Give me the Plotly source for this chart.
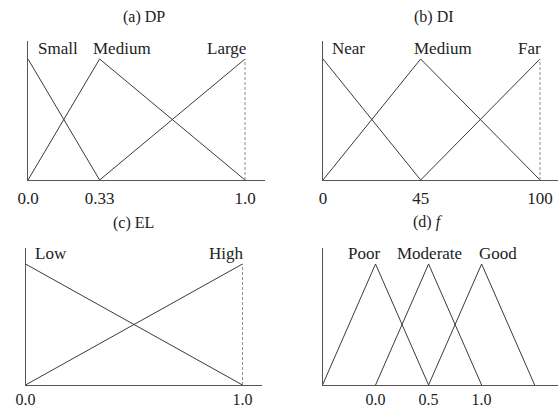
import plotly.graph_objects as go

W, H = 559, 410

# ---- data ----
dp_small_x = [0.0, 0.33]
dp_small_y = [1.0, 0.0]
dp_medium_x = [0.0, 0.33, 1.0]
dp_medium_y = [0.0, 1.0, 0.0]
dp_large_x = [0.33, 1.0]
dp_large_y = [0.0, 1.0]
dp_ticks = [0.0, 0.33, 1.0]
dp_ticktext = ["0.0", "0.33", "1.0"]

di_near_x = [0, 45]
di_near_y = [1.0, 0.0]
di_medium_x = [0, 45, 100]
di_medium_y = [0.0, 1.0, 0.0]
di_far_x = [45, 100]
di_far_y = [0.0, 1.0]
di_ticks = [0, 45, 100]
di_ticktext = ["0", "45", "100"]

el_low_x = [0.0, 1.0]
el_low_y = [1.0, 0.0]
el_high_x = [0.0, 1.0]
el_high_y = [0.0, 1.0]
el_ticks = [0.0, 1.0]
el_ticktext = ["0.0", "1.0"]

f_poor_x = [-0.5, 0.0, 0.5]
f_poor_y = [0.0, 1.0, 0.0]
f_mod_x = [0.0, 0.5, 1.0]
f_mod_y = [0.0, 1.0, 0.0]
f_good_x = [0.5, 1.0, 1.5]
f_good_y = [0.0, 1.0, 0.0]
f_ticks = [0.0, 0.5, 1.0]
f_ticktext = ["0.0", "0.5", "1.0"]

FONT = "Liberation Serif, Times New Roman, serif"
LINE = dict(color="#3a3a3a", width=1)
DASH = dict(color="#8a8a8a", width=1, dash="3px,2px")

fig = go.Figure()

def add(x, y, ax, line=LINE):
    fig.add_trace(go.Scatter(x=x, y=y, mode="lines", line=line,
                             xaxis="x" + ax, yaxis="y" + ax,
                             showlegend=False, hoverinfo="skip"))

# panel a
add(dp_small_x, dp_small_y, "")
add(dp_medium_x, dp_medium_y, "")
add(dp_large_x, dp_large_y, "")
add([dp_large_x[-1], dp_large_x[-1]], [0, dp_large_y[-1]], "", DASH)
# panel b
add(di_near_x, di_near_y, "2")
add(di_medium_x, di_medium_y, "2")
add(di_far_x, di_far_y, "2")
add([di_far_x[-1], di_far_x[-1]], [0, di_far_y[-1]], "2", DASH)
# panel c
add(el_low_x, el_low_y, "3")
add(el_high_x, el_high_y, "3")
add([el_high_x[-1], el_high_x[-1]], [0, el_high_y[-1]], "3", DASH)
# panel d
add(f_poor_x, f_poor_y, "4")
add(f_mod_x, f_mod_y, "4")
add(f_good_x, f_good_y, "4")

def px_x(a, b):
    return [a / W, b / W]

def px_y(top, bottom):
    return [1 - bottom / H, 1 - top / H]

def xax(domain, rng, tv, tt, anchor, tl=3, fs=17):
    return dict(domain=domain, range=rng, tickvals=tv, ticktext=tt,
                showline=True, linecolor="#555555", linewidth=1,
                showgrid=False, zeroline=False, ticks="outside" if tl else "",
                ticklen=tl, tickcolor="rgba(0,0,0,0)", anchor=anchor,
                automargin=False, fixedrange=True,
                tickfont=dict(family=FONT, size=fs, color="#222222"))

def yax(domain, rng, anchor):
    return dict(domain=domain, range=rng, showline=True, linecolor="#555555",
                linewidth=1, showgrid=False, zeroline=False, automargin=False,
                fixedrange=True, showticklabels=False, ticks="", anchor=anchor)

yr = [0, 139 / 121]
BOT, TOP = 385, 248
yr2 = [0, (BOT - TOP) / 121]
fig.update_layout(
    template="none",
    width=W, height=H, margin=dict(l=0, r=0, t=0, b=0, pad=0),
    paper_bgcolor="white", plot_bgcolor="white",
    xaxis=xax(px_x(28, 265), [0, 237 / 217], dp_ticks, dp_ticktext, "y"),
    yaxis=yax(px_y(41, 180), yr, "x"),
    xaxis2=xax(px_x(323, 558), [0, 235 / 2.17], di_ticks, di_ticktext, "y2"),
    yaxis2=yax(px_y(41, 180), yr, "x2"),
    xaxis3=xax(px_x(25.5, 262), [0, 236.5 / 217], el_ticks, el_ticktext, "y3", 0, 16),
    yaxis3=yax(px_y(TOP, BOT), yr2, "x3"),
    xaxis4=xax(px_x(322.5, 558), [-0.5, 1.72], f_ticks, f_ticktext, "y4", 0, 16),
    yaxis4=yax(px_y(TOP, BOT), yr2, "x4"),
    font=dict(family=FONT, color="#222222"),
    showlegend=False,
)

def title(text, xc, yc):
    fig.add_annotation(text=text, x=xc / W, y=1 - yc / H, xref="paper", yref="paper",
                       showarrow=False, xanchor="center", yanchor="middle",
                       font=dict(family=FONT, size=16, color="#222222"))

title("(a) DP", 144, 17)
title("(b) DI", 434, 17)
title("(c) EL", 133, 223)
title("(d) <i>f</i>", 428, 222)

def label(text, x, y, ax, anchor):
    fig.add_annotation(text=text, x=x, y=y, xref="x" + ax, yref="y" + ax,
                       showarrow=False, xanchor=anchor, yanchor="middle",
                       font=dict(family=FONT, size=17, color="#222222"))

label("Small", 0.035, 1.09, "", "left")
label("Medium", 0.29, 1.09, "", "left")
label("Large", 1.015, 1.09, "", "right")
label("Near", 3.0, 1.09, "2", "left")
label("Medium", 41.0, 1.09, "2", "left")
label("Far", 101.5, 1.09, "2", "right")
label("Low", 0.035, 1.09, "3", "left")
label("High", 1.015, 1.09, "3", "right")
label("Poor", -0.11, 1.09, "4", "center")
label("Moderate", 0.51, 1.09, "4", "center")
label("Good", 1.15, 1.09, "4", "center")

fig.write_html(
    "out.html",
    config={"displayModeBar": False, "staticPlot": True},
    post_script="document.body.style.margin='0';document.body.style.overflow='hidden';",
)
